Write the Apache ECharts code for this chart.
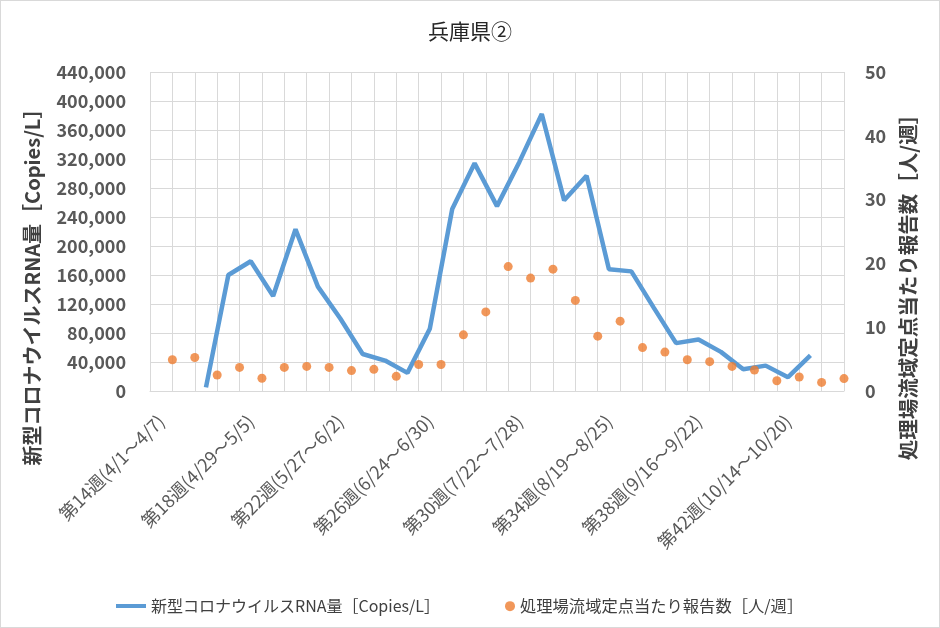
<!DOCTYPE html>
<html><head><meta charset="utf-8">
<script src="https://cdn.jsdelivr.net/npm/echarts@6/dist/echarts.min.js"></script>
<style>html,body{margin:0;padding:0;background:#fff}#c{width:938px;height:626px;border:1px solid #d9d9d9}</style>
</head><body><div id="c"></div>
<script>
const weeks = ['第14週(4/1～4/7)','第15週(4/8～4/14)','第16週(4/15～4/21)','第17週(4/22～4/28)','第18週(4/29～5/5)','第19週(5/6～5/12)','第20週(5/13～5/19)','第21週(5/20～5/26)','第22週(5/27～6/2)','第23週(6/3～6/9)','第24週(6/10～6/16)','第25週(6/17～6/23)','第26週(6/24～6/30)','第27週(7/1～7/7)','第28週(7/8～7/14)','第29週(7/15～7/21)','第30週(7/22～7/28)','第31週(7/29～8/4)','第32週(8/5～8/11)','第33週(8/12～8/18)','第34週(8/19～8/25)','第35週(8/26～9/1)','第36週(9/2～9/8)','第37週(9/9～9/15)','第38週(9/16～9/22)','第39週(9/23～9/29)','第40週(9/30～10/6)','第41週(10/7～10/13)','第42週(10/14～10/20)','第43週(10/21～10/27)','第44週(10/28～11/3)'];
const rna = [null,null,5000,160000,179000,131000,223000,144000,100000,51000,42000,25000,86000,251000,314000,255000,316000,382000,263000,297000,168000,165000,115000,66000,71000,54000,30000,35000,19000,49000,null];
const reports = [4.9,5.25,2.5,3.7,2.0,3.7,3.85,3.7,3.2,3.4,2.3,4.15,4.15,8.8,12.4,19.5,17.7,19.1,14.2,8.6,10.95,6.8,6.1,4.9,4.6,3.85,3.3,1.6,2.2,1.35,1.95];
const leftTicks = {min:0,max:440000,interval:40000};
const rightTicks = {min:0,max:50,interval:10};
const seriesNames = ['新型コロナウイルスRNA量［Copies/L］','処理場流域定点当たり報告数［人/週］'];
const axisTitles = ['新型コロナウイルスRNA量［Copies/L］','処理場流域定点当たり報告数［人/週］'];

const font = '"Noto Sans CJK JP","Noto Sans",sans-serif';
const chart = echarts.init(document.getElementById('c'));
chart.setOption({
  animation:false,
  textStyle:{fontFamily:font},
  title:{text:'兵庫県②',left:'center',top:15,textStyle:{fontSize:21,fontWeight:'normal',color:'#262626',fontFamily:font}},
  legend:[
    {left:110,top:592,textStyle:{fontSize:16,color:'#404040'},itemGap:4,
     data:[{name:seriesNames[0],icon:'rect'}],itemWidth:30,itemHeight:4},
    {left:499,top:592,textStyle:{fontSize:16.3,color:'#404040'},itemGap:8,
     data:[{name:seriesNames[1],icon:'circle'}],itemWidth:10,itemHeight:10}],
  graphic:[
    {type:'text',x:31,y:281,rotation:Math.PI/2,style:{text:axisTitles[0],align:'center',verticalAlign:'middle',
      font:'bold 20px '+font,fill:'#404040'}},
    {type:'text',x:907,y:281,rotation:Math.PI/2,style:{text:axisTitles[1],align:'center',verticalAlign:'middle',
      font:'bold 20.5px '+font,fill:'#404040'}}],
  grid:{left:149,right:95,top:71,bottom:236,containLabel:false},
  xAxis:[{type:'category',data:weeks,boundaryGap:true,
    axisLine:{lineStyle:{color:'#d9d9d9'}},axisTick:{show:false},
    splitLine:{show:true,interval:0,lineStyle:{color:'#d9d9d9',width:1}},
    axisLabel:{interval:3,rotate:45,fontSize:18,color:'#595959',margin:27}},
   {type:'value',min:0,max:31,interval:0.5,show:false,position:'bottom',
    splitLine:{show:true,lineStyle:{color:'#ececec',width:1}}}],
  yAxis:[{type:'value',min:leftTicks.min,max:leftTicks.max,interval:leftTicks.interval,
    axisLine:{show:false},axisTick:{show:false},
    axisLabel:{fontSize:18,fontWeight:'bold',color:'#595959',margin:24,formatter:v=>v.toLocaleString('en-US')},
    splitLine:{show:true,lineStyle:{color:'#d9d9d9'}}},
   {type:'value',min:rightTicks.min,max:rightTicks.max,interval:rightTicks.interval,
    axisLine:{show:false},axisTick:{show:false},splitLine:{show:false},
    axisLabel:{fontSize:18,fontWeight:'bold',color:'#595959',margin:21}}],
  series:[
    {name:seriesNames[0],type:'line',xAxisIndex:0,yAxisIndex:0,data:rna,showSymbol:false,symbol:'none',
     lineStyle:{color:'#5b9bd5',width:4.5},itemStyle:{color:'#5b9bd5'},connectNulls:false,z:3},
    {name:seriesNames[1],type:'scatter',xAxisIndex:1,yAxisIndex:1,
     data:reports.map((v,i)=>[i+1,v]),symbolSize:9,itemStyle:{color:'#ed7d31'},z:4}
  ]
});
</script></body></html>
